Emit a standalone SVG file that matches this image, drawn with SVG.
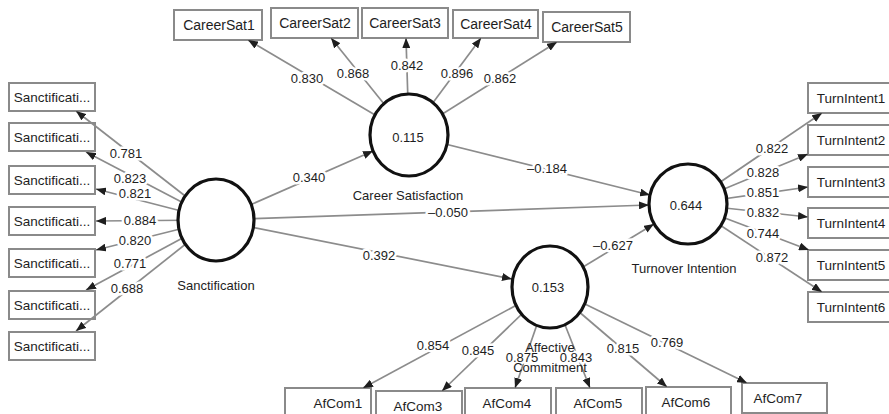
<svg xmlns="http://www.w3.org/2000/svg" width="889" height="414" viewBox="0 0 889 414">
<defs>
<marker id="arr" markerUnits="userSpaceOnUse" markerWidth="10" markerHeight="8" viewBox="0 0 10 8" refX="10" refY="4" orient="auto">
<path d="M0,0 L10,4 L0,8 z" fill="#1e1e1e"/>
</marker>
<style>
text{font-family:"Liberation Sans",Arial,sans-serif;fill:#1e1e1e}
.box{fill:#fff;stroke:#8a8a8a;stroke-width:2}
.bt{font-size:13.5px;text-anchor:middle}
.cs{font-size:14px}
.cons{fill:#fff;stroke:#111;stroke-width:3.2}
.ct{font-size:13px;text-anchor:middle}
.edge{stroke:#8c8c8c;stroke-width:1.7;fill:none;marker-end:url(#arr)}
.lbl{font-size:13px;text-anchor:middle;stroke:#fff;stroke-width:5;paint-order:stroke;stroke-linejoin:round}
</style>
</defs>
<rect width="889" height="414" fill="#fff"/>

<g id="indicators">
<g id="sanct1"><rect class="box" x="9" y="83" width="86" height="28"/><text class="bt" x="52" y="102">Sanctificati...</text></g>
<g id="sanct2"><rect class="box" x="9" y="123" width="86" height="28"/><text class="bt" x="52" y="142">Sanctificati...</text></g>
<g id="sanct3"><rect class="box" x="9" y="166" width="86" height="28"/><text class="bt" x="52" y="185">Sanctificati...</text></g>
<g id="sanct4"><rect class="box" x="9" y="207" width="86" height="28"/><text class="bt" x="52" y="226">Sanctificati...</text></g>
<g id="sanct5"><rect class="box" x="9" y="249" width="86" height="28"/><text class="bt" x="52" y="268">Sanctificati...</text></g>
<g id="sanct6"><rect class="box" x="9" y="291" width="86" height="28"/><text class="bt" x="52" y="310">Sanctificati...</text></g>
<g id="sanct7"><rect class="box" x="9" y="332" width="86" height="28"/><text class="bt" x="52" y="351">Sanctificati...</text></g>

<g id="cs1"><rect class="box" x="174" y="10" width="88" height="30"/><text class="bt cs" x="219" y="30">CareerSat1</text></g>
<g id="cs2"><rect class="box" x="271" y="8" width="87" height="30"/><text class="bt cs" x="315" y="28">CareerSat2</text></g>
<g id="cs3"><rect class="box" x="362" y="8" width="86" height="30"/><text class="bt cs" x="405" y="28">CareerSat3</text></g>
<g id="cs4"><rect class="box" x="453" y="10" width="85" height="28"/><text class="bt cs" x="496" y="29">CareerSat4</text></g>
<g id="cs5"><rect class="box" x="543" y="12" width="87" height="30"/><text class="bt cs" x="587" y="32">CareerSat5</text></g>

<g id="ti1"><rect class="box" x="808" y="83" width="82" height="30"/><text class="bt" x="851" y="103">TurnIntent1</text></g>
<g id="ti2"><rect class="box" x="808" y="125" width="82" height="30"/><text class="bt" x="851" y="145">TurnIntent2</text></g>
<g id="ti3"><rect class="box" x="808" y="167" width="82" height="30"/><text class="bt" x="851" y="187">TurnIntent3</text></g>
<g id="ti4"><rect class="box" x="808" y="208" width="82" height="30"/><text class="bt" x="851" y="228">TurnIntent4</text></g>
<g id="ti5"><rect class="box" x="808" y="250" width="82" height="30"/><text class="bt" x="851" y="270">TurnIntent5</text></g>
<g id="ti6"><rect class="box" x="808" y="292" width="82" height="30"/><text class="bt" x="851" y="312">TurnIntent6</text></g>

<g id="af1"><rect class="box" x="285" y="388" width="86" height="30"/><text class="bt" x="338" y="408">AfCom1</text></g>
<g id="af3"><rect class="box" x="376" y="391" width="86" height="30"/><text class="bt" x="418" y="411">AfCom3</text></g>
<g id="af4"><rect class="box" x="465" y="388" width="86" height="30"/><text class="bt" x="507" y="408">AfCom4</text></g>
<g id="af5"><rect class="box" x="556" y="388" width="86" height="30"/><text class="bt" x="598" y="408">AfCom5</text></g>
<g id="af6"><rect class="box" x="646" y="387" width="85" height="30"/><text class="bt" x="686" y="407">AfCom6</text></g>
<g id="af7"><rect class="box" x="742" y="383" width="85" height="30"/><text class="bt" x="778" y="403">AfCom7</text></g>
</g>

<g id="connectors">
<line class="edge" x1="216" y1="220" x2="76" y2="111"/>
<line class="edge" x1="216" y1="220" x2="86" y2="152"/>
<line class="edge" x1="216" y1="220" x2="96" y2="189"/>
<line class="edge" x1="216" y1="220" x2="96" y2="221"/>
<line class="edge" x1="216" y1="220" x2="96" y2="250"/>
<line class="edge" x1="216" y1="220" x2="86" y2="290"/>
<line class="edge" x1="216" y1="220" x2="76" y2="331"/>

<line class="edge" x1="409" y1="135" x2="248" y2="40"/>
<line class="edge" x1="409" y1="135" x2="331" y2="38"/>
<line class="edge" x1="409" y1="135" x2="406" y2="38"/>
<line class="edge" x1="409" y1="135" x2="481" y2="38"/>
<line class="edge" x1="409" y1="135" x2="557" y2="42"/>

<line class="edge" x1="688" y1="204" x2="822" y2="113"/>
<line class="edge" x1="688" y1="204" x2="808" y2="154"/>
<line class="edge" x1="688" y1="204" x2="808" y2="187"/>
<line class="edge" x1="688" y1="204" x2="808" y2="217"/>
<line class="edge" x1="688" y1="204" x2="809" y2="250"/>
<line class="edge" x1="688" y1="204" x2="822" y2="292"/>

<line class="edge" x1="550" y1="287" x2="363" y2="388"/>
<line class="edge" x1="550" y1="287" x2="442" y2="391"/>
<line class="edge" x1="550" y1="287" x2="515" y2="388"/>
<line class="edge" x1="550" y1="287" x2="590" y2="388"/>
<line class="edge" x1="550" y1="287" x2="667" y2="387"/>
<line class="edge" x1="550" y1="287" x2="747" y2="383"/>

<line class="edge" x1="216" y1="220" x2="373" y2="151"/>
<line class="edge" x1="409" y1="135" x2="650" y2="195"/>
<line class="edge" x1="216" y1="220" x2="649" y2="205"/>
<line class="edge" x1="216" y1="220" x2="512" y2="279"/>
<line class="edge" x1="550" y1="287" x2="654" y2="224"/>
</g>

<g id="constructs">
<g id="sanctification"><ellipse class="cons" cx="216" cy="220" rx="38" ry="41"/></g>
<g id="career-satisfaction"><ellipse class="cons" cx="409" cy="135" rx="39" ry="41"/><text class="ct" x="408" y="142">0.115</text></g>
<g id="turnover-intention"><ellipse class="cons" cx="688" cy="204" rx="39" ry="40"/><text class="ct" x="686" y="210">0.644</text></g>
<g id="affective-commitment"><ellipse class="cons" cx="550" cy="287" rx="38" ry="41"/><text class="ct" x="548" y="292">0.153</text></g>
</g>

<g id="edge-labels">
<text class="lbl" x="126" y="158">0.781</text>
<text class="lbl" x="130" y="183">0.823</text>
<text class="lbl" x="135" y="198">0.821</text>
<text class="lbl" x="140" y="225">0.884</text>
<text class="lbl" x="135" y="245">0.820</text>
<text class="lbl" x="130" y="268">0.771</text>
<text class="lbl" x="127" y="293">0.688</text>

<text class="lbl" x="307" y="83">0.830</text>
<text class="lbl" x="353" y="78">0.868</text>
<text class="lbl" x="407" y="70">0.842</text>
<text class="lbl" x="457" y="78">0.896</text>
<text class="lbl" x="500" y="83">0.862</text>

<text class="lbl" x="772" y="153">0.822</text>
<text class="lbl" x="763" y="177">0.828</text>
<text class="lbl" x="763" y="197">0.851</text>
<text class="lbl" x="763" y="217">0.832</text>
<text class="lbl" x="763" y="238">0.744</text>
<text class="lbl" x="772" y="262">0.872</text>

<text class="lbl" x="433" y="350">0.854</text>
<text class="lbl" x="478" y="355">0.845</text>
<text class="lbl" x="522" y="362">0.875</text>
<text class="lbl" x="576" y="362">0.843</text>
<text class="lbl" x="623" y="353">0.815</text>
<text class="lbl" x="667" y="347">0.769</text>

<text class="lbl" x="309" y="182">0.340</text>
<text class="lbl" x="547" y="173">–0.184</text>
<text class="lbl" x="448" y="217">–0.050</text>
<text class="lbl" x="379" y="260">0.392</text>
<text class="lbl" x="613" y="250">–0.627</text>
</g>

<g id="construct-names">
<text class="ct" x="216" y="290">Sanctification</text>
<text class="ct" x="408" y="200">Career Satisfaction</text>
<text class="ct" x="684" y="273">Turnover Intention</text>
<text class="ct" x="550" y="352">Affective</text>
<text class="ct" x="550" y="372">Commitment</text>
</g>
</svg>
